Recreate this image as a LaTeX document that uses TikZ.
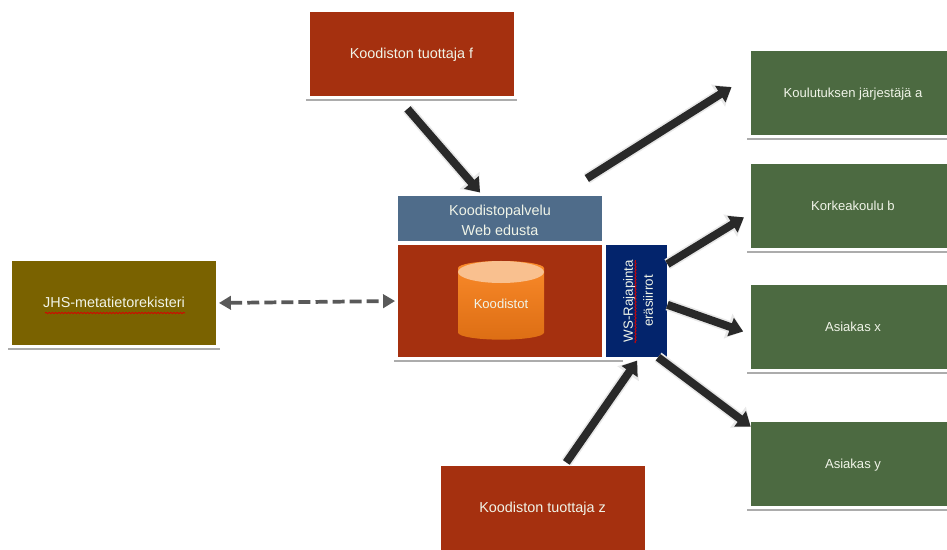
\documentclass[tikz,border=0pt]{standalone}
\usepackage{fontspec}
\setmainfont{Liberation Sans}
\usepackage{xcolor}
\usetikzlibrary{arrows.meta}
\usetikzlibrary{shapes.geometric}
\usetikzlibrary{decorations.pathmorphing}

\definecolor{tuottajared}{HTML}{A5300F}
\definecolor{asiakasgreen}{HTML}{4C6A41}
\definecolor{jhsolive}{HTML}{7A6200}
\definecolor{webblue}{HTML}{4F6C8A}
\definecolor{wsnavy}{HTML}{03246C}
\definecolor{boxtext}{HTML}{F0F4E8}
\definecolor{cylbody}{HTML}{FA8A2A}
\definecolor{cylbottom}{HTML}{DD6E14}
\definecolor{cyltop}{HTML}{F9C08F}

\tikzset{
    box/.style={rectangle, inner sep=0pt, text=boxtext, font=\fontsize{10.8pt}{15pt}\selectfont,
        minimum width=153pt, minimum height=63pt, align=center},
    onetext/.style={text height=8.5pt, text depth=1.5pt},
    greentext/.style={font=\fontsize{9.8pt}{14pt}\selectfont},
    boxline/.style={box, append after command={
        ([xshift=-2.5pt,yshift=-2.8pt]\tikzlastnode.south west) edge[draw=gray!65, line width=1.5pt]
        ([xshift=2.5pt,yshift=-2.8pt]\tikzlastnode.south east)}},
    bigarrow/.style={draw=black!84, line width=6pt,
        -{Triangle[length=10pt,width=14pt]},
        preaction={draw=gray!18, line width=8.5pt, -{Triangle[length=12pt,width=19pt]}}},
    dasharrow/.style={draw=black!65, line width=2.8pt, dash pattern=on 9pt off 3.8pt,
        {Triangle[length=9pt,width=10pt]}-{Triangle[length=9pt,width=10pt]}},
    squiggle/.style={draw=red!85!black, line width=.6pt, decorate,
        decoration={snake, amplitude=.5pt, segment length=2.4pt}}
}

\begin{document}
\begin{tikzpicture}[x=0.75pt, y=-0.75pt]
            \useasboundingbox (0,0) rectangle (947,550);

            \node[boxline, onetext, fill=tuottajared] (prodf) at (411.5,53.5) {Koodiston tuottaja f};
            \node[box, onetext, fill=tuottajared] (prodz) at (542.5,508) {Koodiston tuottaja z};

            \node[boxline, onetext, greentext, fill=asiakasgreen] (kja) at (853,93) {Koulutuksen järjestäjä a};
            \node[boxline, onetext, greentext, fill=asiakasgreen] (kkb) at (853,206) {Korkeakoulu b};
            \node[boxline, onetext, greentext, fill=asiakasgreen] (asx) at (853,327) {Asiakas x};
            \node[boxline, onetext, greentext, fill=asiakasgreen] (asy) at (853,464) {Asiakas y};

            \node[boxline, onetext, fill=jhsolive] (jhs) at (114,303) {JHS-metatietorekisteri};
            \draw[squiggle] (45,313) -- (185,313);

            \node[box, fill=webblue, minimum height=34pt] (web) at (500,218.5) {\rule{0pt}{11pt}Koodistopalvelu\\Web edusta};
            \node[boxline, fill=tuottajared, minimum height=84pt] (core) at (500,301) {};
            \node[box, fill=wsnavy, minimum width=46pt, minimum height=84pt] (ws) at (636.5,301) {};
            \draw[draw=gray!65, line width=1.5pt] ([yshift=-2.8pt]core.south east) -- ([xshift=-10pt,yshift=-2.8pt]ws.south);

            \node[rotate=90, text=boxtext, inner sep=0pt, align=center,
                font=\fontsize{10pt}{15pt}\selectfont] (wstext) at (638,301) {WS-Rajapinta\\eräsiirrot};
            \draw[squiggle] (635.5,343) -- (635.5,260);

            \node[cylinder, shape border rotate=90, aspect=.26, inner sep=0pt,
                minimum width=64.5pt, minimum height=59pt, text=boxtext,
                top color=cylbody, bottom color=cylbottom,
                font=\fontsize{9.8pt}{14pt}\selectfont] (koodistot) at (501,304) {Koodistot};
            \fill[cyltop] (501,272) ellipse [x radius=43, y radius=11];

            \draw[bigarrow, shorten >=3pt, shorten <=13pt] (prodf.250) -- (web.127);
            \draw[bigarrow, shorten >=17pt, shorten <=24pt] (web.21) -- (kja.170);
            \draw[bigarrow, shorten >=6pt] (ws.50) -- (kkb.184);
            \draw[bigarrow, shorten >=6pt] (ws.-7) -- (asx.184);
            \draw[bigarrow] (ws.-69) -- (asy.160);
            \draw[bigarrow, shorten >=3pt, shorten <=3pt] (prodz.63) -- (ws.273);
            \draw[dasharrow, shorten >=2pt, shorten <=2pt] (jhs.east) -- (core.west);
        \end{tikzpicture}
\end{document}
